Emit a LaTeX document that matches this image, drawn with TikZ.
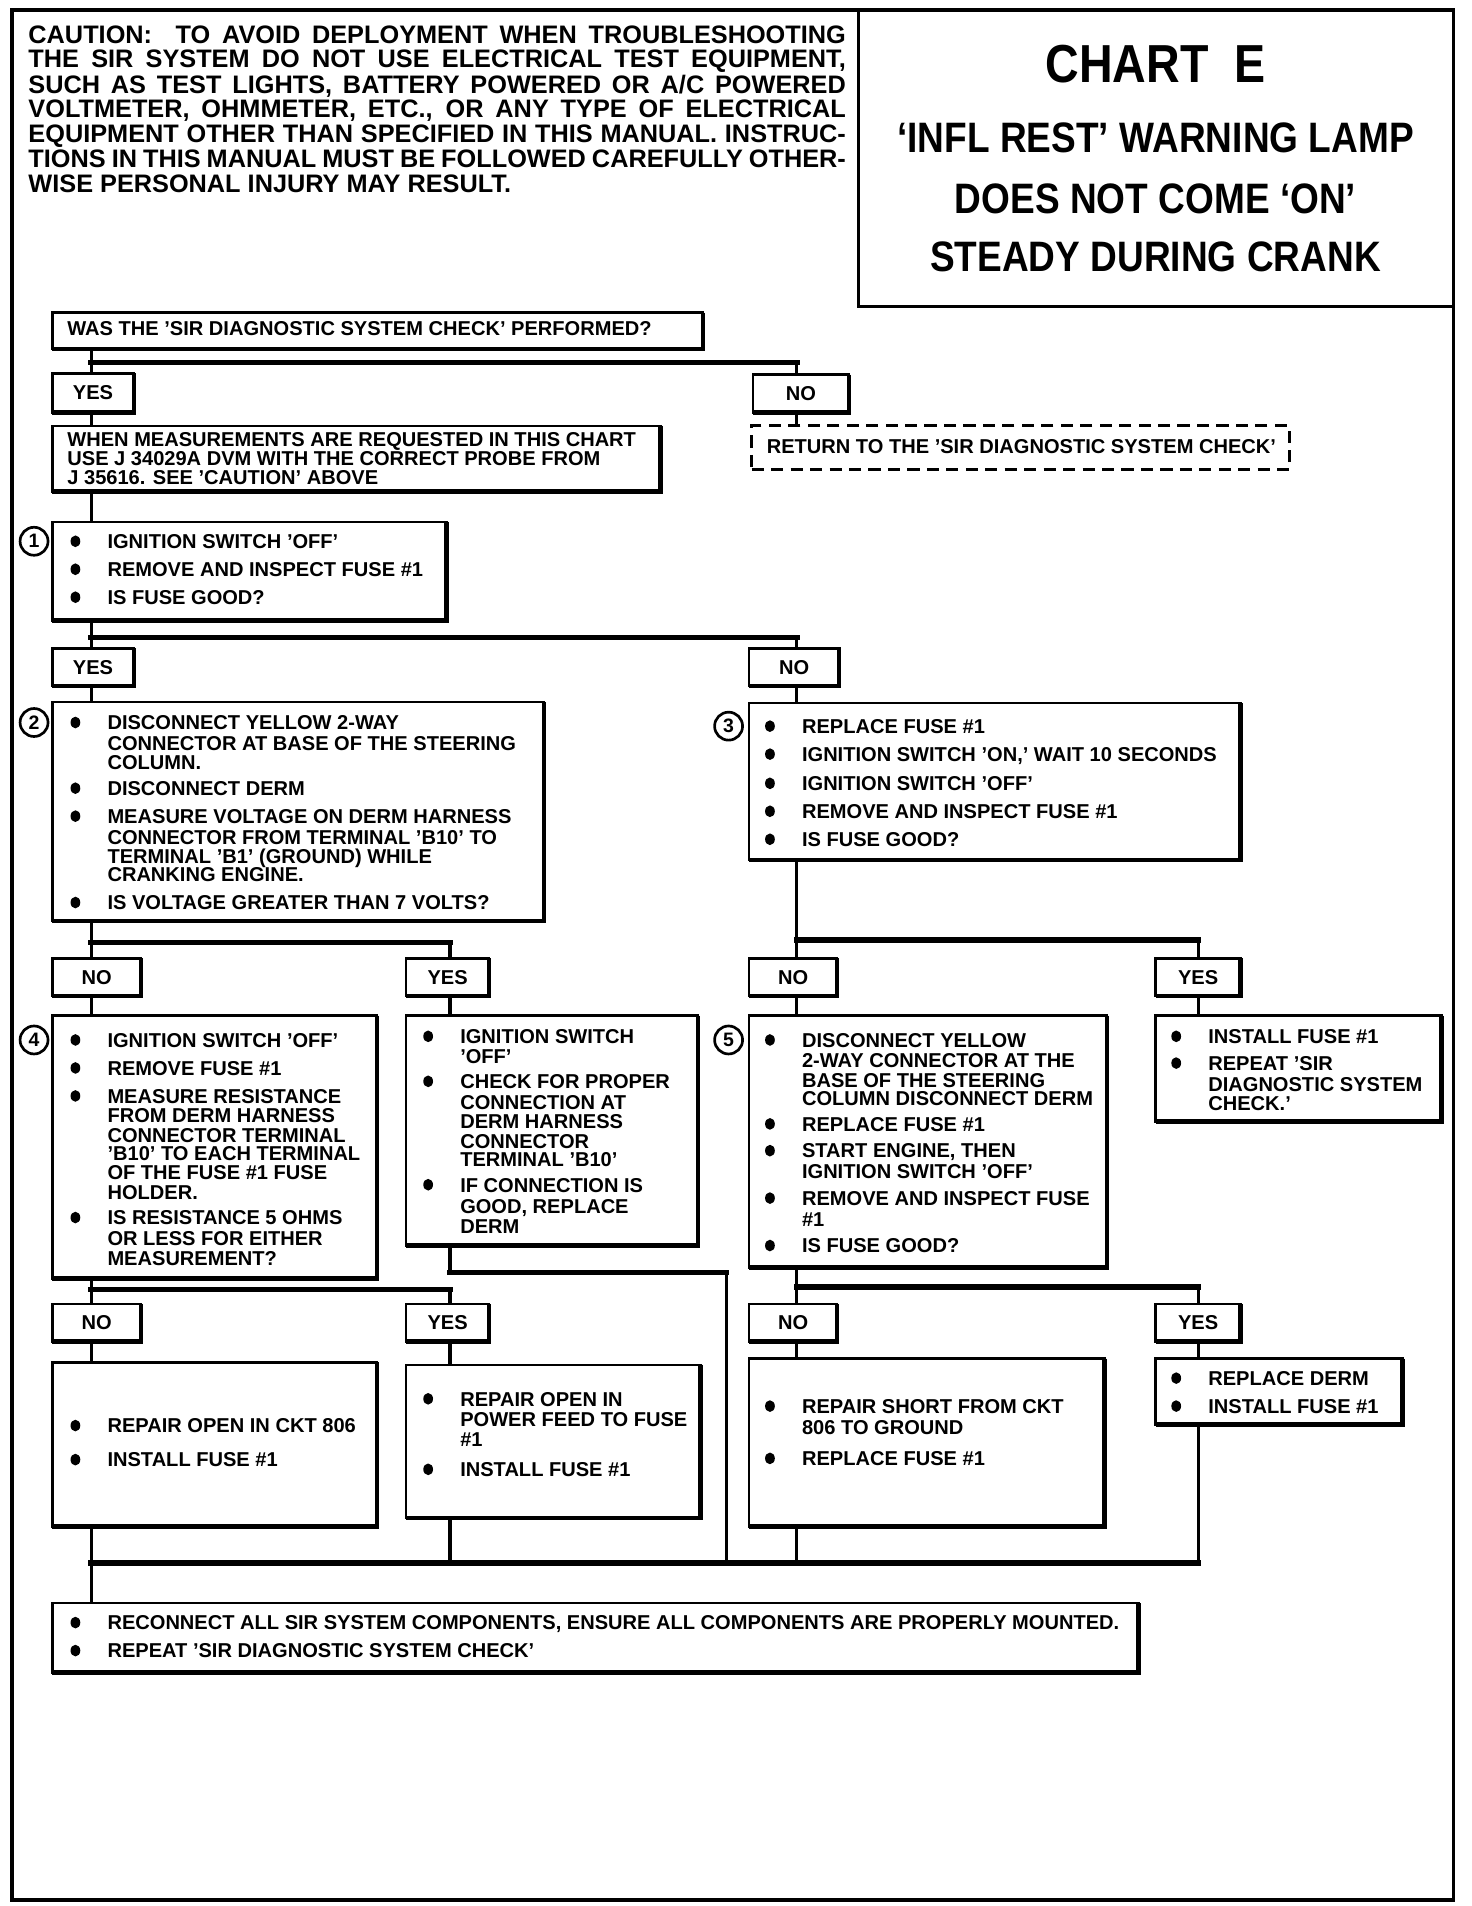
\documentclass[tikz,border=0pt]{standalone}
\usepackage{fontspec}
\setmainfont{Liberation Sans}
\usepackage{graphicx}
\newcommand\bodyf{\fontsize{8.25}{9}\selectfont\bfseries}
\newcommand\cauf{\fontsize{10.4}{12}\selectfont\bfseries}
\tikzset{
 box/.style={draw, line width=1pt, inner sep=0pt, outer sep=0pt, rectangle},
 dbox/.style={draw, line width=1.3pt, dash pattern=on 5pt off 3pt, inner sep=0pt, outer sep=0pt, rectangle},
 yn/.style={box, font=\bodyf},
 txt/.style={font=\bodyf, inner sep=0pt, anchor=base west},
 ctxt/.style={font=\cauf, inner sep=0pt, anchor=base west},
 ttl/.style={inner sep=0pt, anchor=base},
 numc/.style={circle, draw, line width=1.1pt, minimum size=11.5pt, inner sep=0pt, font=\fontsize{8}{8}\selectfont\bfseries},
 bus/.style={line width=2.3pt, line cap=rect},
 vl/.style={line width=1.3pt},
 shd/.style={line width=1.8pt},
}
\newcommand\bx[6][box]{\node[#1,anchor=north west,minimum width={(#5-#3)*0.5pt},minimum height={(#6-#4)*0.5pt}] (#2) at (#3,#4) {};}
\newcommand\ynb[6]{\node[yn,anchor=north west,minimum width={(#4-#2)*0.5pt},minimum height={(#5-#3)*0.5pt}] (#1) at (#2,#3) {#6};}
\newcommand\txtline[4]{\node[txt] (#1) at (#2,#3+6) {#4};}
\newcommand\bulline[4]{\fill (#2-26,#3) ellipse[x radius=2pt, y radius=2.4pt]; \node[txt] (#1) at (#2,#3+6) {#4};}
\newcommand\caul[3]{\node[ctxt] (#1) at (23,#2+7.5) {\makebox[336pt][s]{#3}};}
\newcommand\shadow[1]{\draw[shd] (#1.north east) -- (#1.south east) -- (#1.south west);}
\begin{document}
\begin{tikzpicture}[x=0.5pt,y=-0.5pt]
\useasboundingbox (0,0) rectangle (1210,1567);
% frame
\draw[line width=1.5pt] (10,8) rectangle (1195,1562);
\draw[line width=1.3pt] (706,8) -- (706,252) -- (1195,252);
% caution
\caul{ca1}{28}{CAUTION:\ \ TO AVOID DEPLOYMENT WHEN TROUBLESHOOTING}
\caul{ca2}{48}{THE SIR SYSTEM DO NOT USE ELECTRICAL TEST EQUIPMENT,}
\caul{ca3}{69}{SUCH AS TEST LIGHTS, BATTERY POWERED OR A/C POWERED}
\caul{ca4}{89}{VOLTMETER, OHMMETER, ETC., OR ANY TYPE OF ELECTRICAL}
\caul{ca5}{110}{EQUIPMENT OTHER THAN SPECIFIED IN THIS MANUAL. INSTRUC-}
\caul{ca6}{130}{TIONS IN THIS MANUAL MUST BE FOLLOWED CAREFULLY OTHER-}
\node[ctxt] (ca7) at (23,151+7.5) {WISE PERSONAL INJURY MAY RESULT.};
% title
\node[ttl] (ti1) at (950,52+16) {\scalebox{0.87}[1]{\fontsize{22}{24}\selectfont\bfseries CHART\ \ E}};
\node[ttl] (ti2) at (950,113+12.5) {\scalebox{0.87}[1]{\fontsize{17.5}{20}\selectfont\bfseries `INFL REST' WARNING LAMP}};
\node[ttl] (ti3) at (950,163+12.5) {\scalebox{0.87}[1]{\fontsize{17.5}{20}\selectfont\bfseries DOES NOT COME `ON'}};
\node[ttl] (ti4) at (950,211+12.5) {\scalebox{0.87}[1]{\fontsize{17.5}{20}\selectfont\bfseries STEADY DURING CRANK}};
% boxes
\bx{q0}{43}{257}{578}{287}
\ynb{yes1}{43}{307}{110}{339}{YES}
\ynb{no1}{619}{308}{698}{339}{NO}
\bx{m}{43}{350}{543}{404}
\bx[dbox]{ret}{618}{350}{1060}{386}
\bx{b1}{43}{429}{367}{510}
\ynb{yes2}{43}{533}{110}{564}{YES}
\ynb{no2}{616}{533}{690}{564}{NO}
\bx{b2}{43}{577}{447}{757}
\bx{b3}{616}{578}{1020}{707}
\ynb{no3}{43}{788}{116}{819}{NO}
\ynb{yes3}{334}{788}{402}{819}{YES}
\ynb{no4}{616}{788}{688}{819}{NO}
\ynb{yes4}{950}{788}{1020}{819}{YES}
\bx{b4}{43}{835}{310}{1051}
\bx{b4b}{334}{835}{574}{1024}
\bx{b5}{616}{835}{910}{1042}
\bx{b5b}{950}{835}{1185}{922}
\ynb{no5}{43}{1072}{116}{1103}{NO}
\ynb{yes5}{334}{1072}{402}{1103}{YES}
\ynb{no6}{616}{1072}{688}{1103}{NO}
\ynb{yes6}{950}{1072}{1020}{1103}{YES}
\bx{b6a}{43}{1120}{310}{1255}
\bx{b6b}{334}{1122}{576}{1248}
\bx{b6c}{616}{1117}{908}{1255}
\bx{b6d}{950}{1117}{1153}{1171}
\bx{fin}{43}{1318}{936}{1375}
\foreach \n in {q0,yes1,no1,m,b1,yes2,no2,b2,b3,no3,yes3,no4,yes4,b4,b4b,b5,b5b,no5,yes5,no6,yes6,b6a,b6b,b6c,b6d,fin}{\shadow{\n}}
% number circles
\node[numc] (c1) at (28,445) {1};
\node[numc] (c2) at (28,594) {2};
\node[numc] (c3) at (599,597) {3};
\node[numc] (c4) at (28,855) {4};
\node[numc] (c5) at (599,855) {5};
% texts
\txtline{q0t}{55}{270}{WAS THE 'SIR DIAGNOSTIC SYSTEM CHECK' PERFORMED?}
\txtline{mt1}{55}{361}{WHEN MEASUREMENTS ARE REQUESTED IN THIS CHART}
\txtline{mt2}{55}{377}{USE J 34029A DVM WITH THE CORRECT PROBE FROM}
\txtline{mt3}{55}{392}{J 35616. SEE 'CAUTION' ABOVE}
\txtline{rett}{630}{367}{RETURN TO THE 'SIR DIAGNOSTIC SYSTEM CHECK'}
\bulline{b1t1}{88}{445}{IGNITION SWITCH 'OFF'}
\bulline{b1t2}{88}{468}{REMOVE AND INSPECT FUSE \#1}
\bulline{b1t3}{88}{491}{IS FUSE GOOD?}
\bulline{b2t1}{88}{594}{DISCONNECT YELLOW 2-WAY}
\txtline{b2t2}{88}{611}{CONNECTOR AT BASE OF THE STEERING}
\txtline{b2t3}{88}{627}{COLUMN.}
\bulline{b2t4}{88}{648}{DISCONNECT DERM}
\bulline{b2t5}{88}{671}{MEASURE VOLTAGE ON DERM HARNESS}
\txtline{b2t6}{88}{688}{CONNECTOR FROM TERMINAL 'B10' TO}
\txtline{b2t7}{88}{704}{TERMINAL 'B1' (GROUND) WHILE}
\txtline{b2t8}{88}{719}{CRANKING ENGINE.}
\bulline{b2t9}{88}{742}{IS VOLTAGE GREATER THAN 7 VOLTS?}
\bulline{b3t1}{659}{597}{REPLACE FUSE \#1}
\bulline{b3t2}{659}{620}{IGNITION SWITCH 'ON,' WAIT 10 SECONDS}
\bulline{b3t3}{659}{644}{IGNITION SWITCH 'OFF'}
\bulline{b3t4}{659}{667}{REMOVE AND INSPECT FUSE \#1}
\bulline{b3t5}{659}{690}{IS FUSE GOOD?}
\bulline{b4t1}{88}{855}{IGNITION SWITCH 'OFF'}
\bulline{b4t2}{88}{878}{REMOVE FUSE \#1}
\bulline{b4t3}{88}{901}{MEASURE RESISTANCE}
\txtline{b4t4}{88}{917}{FROM DERM HARNESS}
\txtline{b4t5}{88}{933}{CONNECTOR TERMINAL}
\txtline{b4t6}{88}{948}{'B10' TO EACH TERMINAL}
\txtline{b4t7}{88}{964}{OF THE FUSE \#1 FUSE}
\txtline{b4t8}{88}{980}{HOLDER.}
\bulline{b4t9}{88}{1001}{IS RESISTANCE 5 OHMS}
\txtline{b4t10}{88}{1018}{OR LESS FOR EITHER}
\txtline{b4t11}{88}{1034}{MEASUREMENT?}
\bulline{b4bt1}{378}{852}{IGNITION SWITCH}
\txtline{b4bt2}{378}{868}{'OFF'}
\bulline{b4bt3}{378}{889}{CHECK FOR PROPER}
\txtline{b4bt4}{378}{906}{CONNECTION AT}
\txtline{b4bt5}{378}{922}{DERM HARNESS}
\txtline{b4bt6}{378}{938}{CONNECTOR}
\txtline{b4bt7}{378}{953}{TERMINAL 'B10'}
\bulline{b4bt8}{378}{974}{IF CONNECTION IS}
\txtline{b4bt9}{378}{992}{GOOD, REPLACE}
\txtline{b4bt10}{378}{1008}{DERM}
\bulline{b5t1}{659}{855}{DISCONNECT YELLOW}
\txtline{b5t2}{659}{872}{2-WAY CONNECTOR AT THE}
\txtline{b5t3}{659}{888}{BASE OF THE STEERING}
\txtline{b5t4}{659}{903}{COLUMN DISCONNECT DERM}
\bulline{b5t5}{659}{924}{REPLACE FUSE \#1}
\bulline{b5t6}{659}{946}{START ENGINE, THEN}
\txtline{b5t7}{659}{963}{IGNITION SWITCH 'OFF'}
\bulline{b5t8}{659}{985}{REMOVE AND INSPECT FUSE}
\txtline{b5t9}{659}{1002}{\#1}
\bulline{b5t10}{659}{1024}{IS FUSE GOOD?}
\bulline{b5bt1}{993}{852}{INSTALL FUSE \#1}
\bulline{b5bt2}{993}{874}{REPEAT 'SIR}
\txtline{b5bt3}{993}{891}{DIAGNOSTIC SYSTEM}
\txtline{b5bt4}{993}{907}{CHECK.'}
\bulline{b6at1}{88}{1172}{REPAIR OPEN IN CKT 806}
\bulline{b6at2}{88}{1200}{INSTALL FUSE \#1}
\bulline{b6bt1}{378}{1150}{REPAIR OPEN IN}
\txtline{b6bt2}{378}{1167}{POWER FEED TO FUSE}
\txtline{b6bt3}{378}{1183}{\#1}
\bulline{b6bt4}{378}{1208}{INSTALL FUSE \#1}
\bulline{b6ct1}{659}{1156}{REPAIR SHORT FROM CKT}
\txtline{b6ct2}{659}{1173}{806 TO GROUND}
\bulline{b6ct3}{659}{1199}{REPLACE FUSE \#1}
\bulline{b6dt1}{993}{1133}{REPLACE DERM}
\bulline{b6dt2}{993}{1156}{INSTALL FUSE \#1}
\bulline{fint1}{88}{1334}{RECONNECT ALL SIR SYSTEM COMPONENTS, ENSURE ALL COMPONENTS ARE PROPERLY MOUNTED.}
\bulline{fint2}{88}{1357}{REPEAT 'SIR DIAGNOSTIC SYSTEM CHECK'}
% spines and junction levels
\coordinate (L) at (75,0);
\coordinate (MM) at (370,0);
\coordinate (X) at (597,0);
\coordinate (R) at (655,0);
\coordinate (RR) at (985,0);
\coordinate (h1) at (0,298);
\coordinate (h2) at (0,524);
\coordinate (h3) at (0,775);
\coordinate (h4) at (0,773);
\coordinate (h5) at (0,1060);
\coordinate (h6) at (0,1046);
\coordinate (h7) at (0,1058);
\coordinate (hb) at (0,1285);
% connectors
\draw[vl] (L |- q0.south) -- (L |- yes1.north);
\draw[bus] (L |- h1) -- (R |- h1);
\draw[vl] (R |- h1) -- (R |- no1.north);
\draw[vl] (L |- yes1.south) -- (L |- m.north);
\draw[vl] (R |- no1.south) -- (R |- ret.north);
\draw[vl] (L |- m.south) -- (L |- b1.north);
\draw[vl] (L |- b1.south) -- (L |- yes2.north);
\draw[bus] (L |- h2) -- (R |- h2);
\draw[vl] (R |- h2) -- (R |- no2.north);
\draw[vl] (L |- yes2.south) -- (L |- b2.north);
\draw[vl] (R |- no2.south) -- (R |- b3.north);
\draw[vl] (L |- b2.south) -- (L |- no3.north);
\draw[bus] (L |- h3) -- (MM |- h3);
\draw[vl] (MM |- h3) -- (MM |- yes3.north);
\draw[vl] (R |- b3.south) -- (R |- no4.north);
\draw[bus] (R |- h4) -- (RR |- h4);
\draw[vl] (RR |- h4) -- (RR |- yes4.north);
\draw[vl] (L |- no3.south) -- (L |- b4.north);
\draw[vl] (MM |- yes3.south) -- (MM |- b4b.north);
\draw[vl] (R |- no4.south) -- (R |- b5.north);
\draw[vl] (RR |- yes4.south) -- (RR |- b5b.north);
\draw[vl] (L |- b4.south) -- (L |- no5.north);
\draw[bus] (L |- h5) -- (MM |- h5);
\draw[vl] (MM |- h5) -- (MM |- yes5.north);
\draw[vl] (MM |- b4b.south) -- (MM |- h6);
\draw[bus] (MM |- h6) -- (X |- h6);
\draw[vl] (X |- h6) -- (X |- hb);
\draw[vl] (R |- b5.south) -- (R |- no6.north);
\draw[bus] (R |- h7) -- (RR |- h7);
\draw[vl] (RR |- h7) -- (RR |- yes6.north);
\draw[vl] (L |- no5.south) -- (L |- b6a.north);
\draw[vl] (MM |- yes5.south) -- (MM |- b6b.north);
\draw[vl] (R |- no6.south) -- (R |- b6c.north);
\draw[vl] (RR |- yes6.south) -- (RR |- b6d.north);
\draw[vl] (L |- b6a.south) -- (L |- fin.north);
\draw[vl] (MM |- b6b.south) -- (MM |- hb);
\draw[vl] (R |- b6c.south) -- (R |- hb);
\draw[vl] (RR |- b6d.south) -- (RR |- hb);
\draw[bus] (L |- hb) -- (RR |- hb);
\end{tikzpicture}
\end{document}
